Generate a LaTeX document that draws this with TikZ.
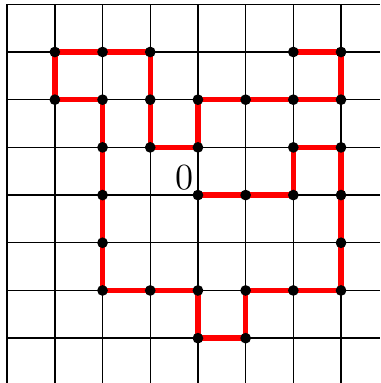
\documentclass[tikz,border=0pt]{standalone}
\usepackage{tikz}
\usetikzlibrary{positioning}
\tikzset{
  gridline/.style={
    draw=black,
    line width=0.4pt
  },
  walk/.style={
    draw=red,
    line width=1.6pt
  },
  vertex/.style={
    circle,
    fill=black,
    draw=none,
    inner sep=0pt,
    minimum size=3.2pt
  },
  origlabel/.style={
    inner sep=1.2pt,
    font=\fontsize{11pt}{13pt}\selectfont
  }
}

\begin{document}
\begin{tikzpicture}[scale=0.5]
\useasboundingbox (-4.15,-3.94) rectangle (3.82,4.09);
\draw[gridline] (-4,-3.94) grid (3.82,4);

\foreach \x/\y [count=\i] in {0/0,1/0,2/0,2/1,3/1,3/0,3/-1,3/-2,2/-2,1/-2,1/-3,0/-3,0/-2,-1/-2,-2/-2,-2/-1,-2/0,-2/1,-2/2,-3/2,-3/3,-2/3,-1/3,-1/2,-1/1,0/1,0/2,1/2,2/2,3/2,3/3,2/3}
  \coordinate (p\i) at (\x,\y);

\draw[walk] (p1) \foreach \i in {2,...,32} {-- (p\i)};

\foreach \i in {1,...,32}
  \node[vertex] (v\i) at (p\i) {};

\node[origlabel,above left=0pt of p1] (zero) {0};
\end{tikzpicture}
\end{document}
